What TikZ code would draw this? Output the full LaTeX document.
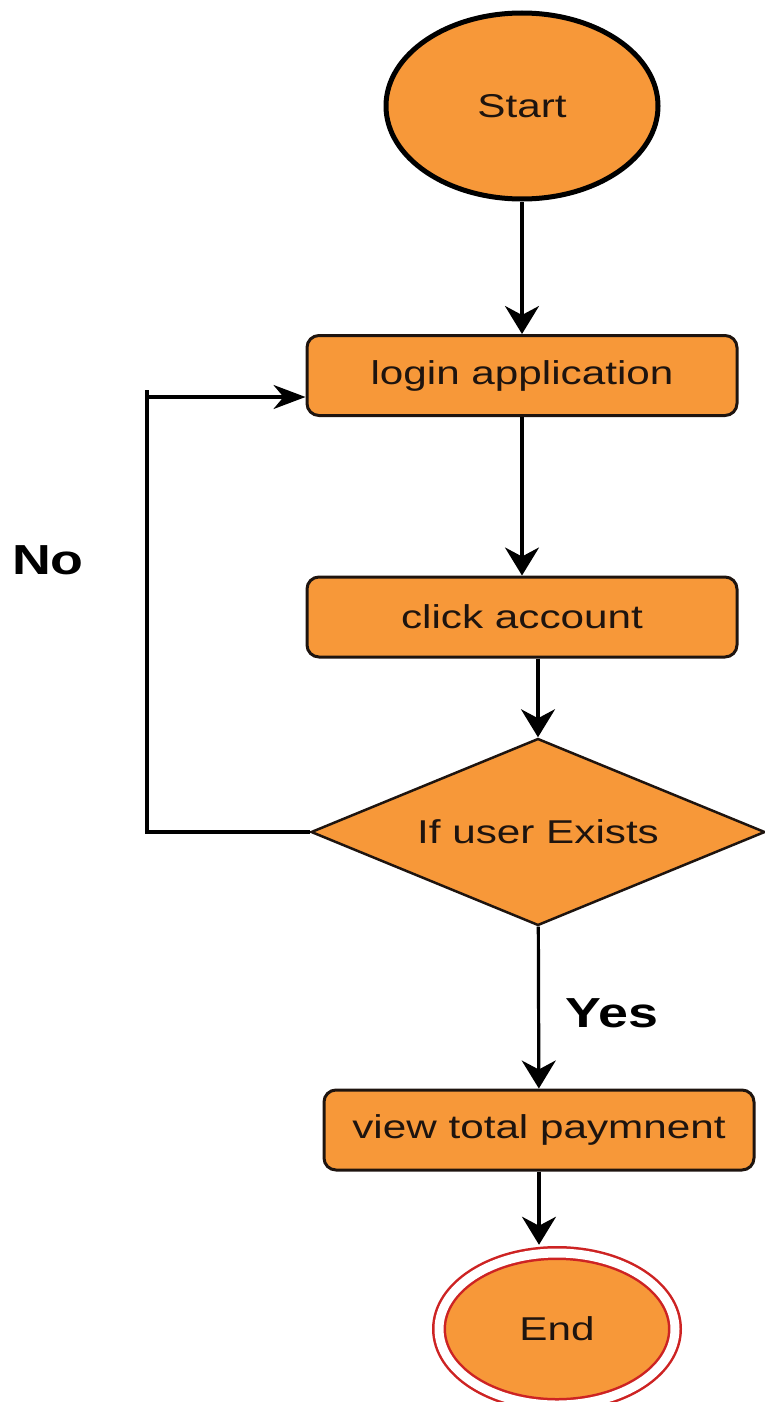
\documentclass[tikz,border=0pt]{standalone}
\usepackage{fontspec}
\newfontfamily\flowfont[FakeStretch=1.28]{Liberation Sans}
\usetikzlibrary{shapes.geometric,arrows.meta}
\definecolor{boxorange}{RGB}{247,152,57}
\definecolor{endred}{RGB}{205,35,35}
\definecolor{inkdark}{RGB}{30,20,15}

\begin{document}
\begin{tikzpicture}[x=1pt, y=-1pt,
    font=\flowfont\fontsize{33}{38}\selectfont,
    terminal/.style={ellipse, fill=boxorange, draw=black, line width=5pt, minimum width=272pt, minimum height=186pt, inner sep=0pt, text=inkdark},
    process/.style={rectangle, rounded corners=12pt, fill=boxorange, draw=inkdark, line width=3pt, minimum width=430pt, minimum height=80pt, inner sep=0pt, text=inkdark},
    decision/.style={diamond, aspect=2.4, fill=boxorange, draw=inkdark, line width=2.5pt, minimum width=454pt, minimum height=187pt, inner sep=0pt, text=inkdark},
    stopnode/.style={ellipse, fill=boxorange, draw=endred, double=white, double distance=9pt, line width=2.5pt, minimum width=236pt, minimum height=152pt, inner sep=0pt, text=inkdark},
    branch/.style={font=\flowfont\bfseries\fontsize{42}{48}\selectfont, text=black},
    flow/.style={line width=3.2pt, -{Stealth[length=28pt, width=34pt, inset=9pt]}},
    loopflow/.style={line width=3.2pt, -{Stealth[length=32pt, width=24pt, inset=10pt]}}]
    \useasboundingbox (0,0) rectangle (764,1402);

    % Flow nodes
    \node[terminal] (start) at (522,106) {Start};
    \node[process] (login) at (522,375.5) {login application};
    \node[process] (click) at (522,617) {click account};
    \node[decision] (dia) at (538,832) {If user Exists};
    \node[process] (view) at (539,1130) {view total paymnent};
    \node[stopnode] (endnode) at (557,1329) {End};
    \coordinate (endtop) at ([yshift=7pt]endnode.north);

    % Branch labels
    \node[branch] (nolabel) at (48,560) {No};
    \node[branch] (yeslabel) at (612,1013) {Yes};

    % Connectors
    \draw[flow] (start) -- (login);
    \draw[flow] (login) -- (click);
    \draw[flow] (click.south -| dia.north) -- (dia.north);
    \draw[flow] (dia) -- (view);
    \draw[flow] (view.south) -- (view.south |- endtop);

    % Loop back when the user is missing
    \coordinate (noturn) at (147,397);
    \draw[loopflow] (dia.west) -| (noturn) -- (login.west |- noturn);
    \draw[line width=3.2pt] (noturn) -- ++(0,-7);
\end{tikzpicture}
\end{document}
